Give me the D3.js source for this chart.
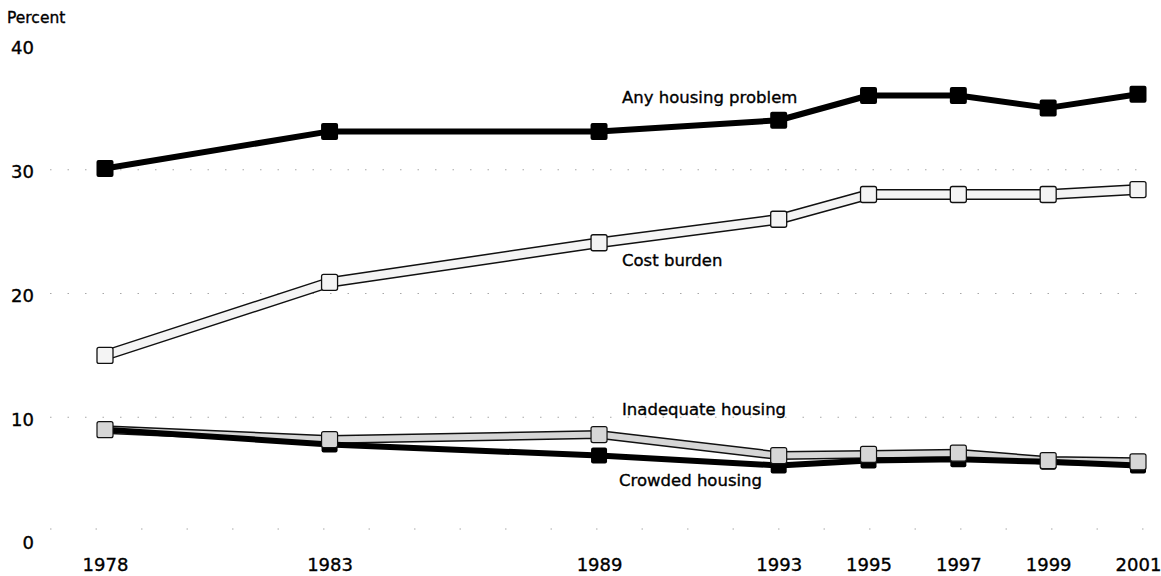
<!DOCTYPE html>
<html>
<head>
<meta charset="utf-8">
<script src="https://cdn.jsdelivr.net/npm/d3@7"></script>
<style>
body{margin:0;background:#fff;}
svg text{font-family:"DejaVu Sans",sans-serif;fill:#000;stroke:#000;stroke-width:0.35px;}
</style>
</head>
<body>
<svg></svg>
<script>
// values (percent)
var years = [1978,1983,1989,1993,1995,1997,1999,2001];
var anyProblem = [30.1,33.1,33.1,34.0,36.0,36.0,35.0,36.1];
var costBurden = [15.0,20.9,24.1,26.0,28.0,28.0,28.0,28.4];
var inadequate = [9.0,8.2,8.6,6.9,7.0,7.1,6.5,6.4];
var crowded = [9.0,7.8,6.9,6.1,6.5,6.6,6.4,6.1];
var yTicks = [0,10,20,30,40];
var gridValues = [10,20,30];
var seriesNames = ["Any housing problem","Cost burden","Inadequate housing","Crowded housing"];

var makePoints = function(values)
{
    return years.map(function(y,i){ return {year:y,value:values[i]}; });
}

var screen = {width:1161,height:576};

var svg = d3.select("svg")
    .attr("width",screen.width)
    .attr("height",screen.height);

var xScale = d3.scaleLinear()
    .domain([1978,2001])
    .range([105,1138]);

var yScale = d3.scaleLinear()
    .domain([0,40])
    .range([541,46]);

var lineGenerator = d3.line()
    .x(function(d){ return xScale(d.year); })
    .y(function(d){ return yScale(d.value); });

// faint dotted grid
var grid = svg.append("g").attr("class","grid");
grid.selectAll("line")
    .data(gridValues)
    .enter()
    .append("line")
    .attr("x1",50)
    .attr("x2",1150)
    .attr("y1",function(d){ return yScale(d); })
    .attr("y2",function(d){ return yScale(d); })
    .attr("stroke","#a8a8a8")
    .attr("stroke-width",1)
    .attr("stroke-dasharray","1.5,16");

grid.append("line")
    .attr("x1",50).attr("x2",1150)
    .attr("y1",529).attr("y2",529)
    .attr("stroke","#a8a8a8")
    .attr("stroke-width",1)
    .attr("stroke-dasharray","1.5,44");

// axes
var yAxis = d3.axisLeft(yScale)
    .tickValues(yTicks)
    .tickSize(0)
    .tickPadding(0);

var yG = svg.append("g")
    .attr("transform","translate(34,2)")
    .call(yAxis);
yG.select(".domain").remove();
yG.selectAll("text")
    .style("font-size","18px")
    .attr("fill","#000");

var xAxis = d3.axisBottom(xScale)
    .tickValues(years)
    .tickFormat(d3.format("d"))
    .tickSize(0)
    .tickPadding(0);

var xG = svg.append("g")
    .attr("transform","translate(0,558)")
    .call(xAxis);
xG.select(".domain").remove();
xG.selectAll("text")
    .style("font-size","18px")
    .attr("fill","#000");

svg.append("text")
    .text("Percent")
    .attr("x",7)
    .attr("y",23)
    .style("font-size","15.5px");

// outlined band line (double line look)
var drawBand = function(points,outer,inner,fill)
{
    var g = svg.append("g");
    g.append("path")
        .datum(points)
        .attr("d",lineGenerator)
        .attr("fill","none")
        .attr("stroke","#111")
        .attr("stroke-width",outer)
        .attr("stroke-linejoin","round");
    g.append("path")
        .datum(points)
        .attr("d",lineGenerator)
        .attr("fill","none")
        .attr("stroke",fill)
        .attr("stroke-width",inner)
        .attr("stroke-linejoin","round");
}

var drawSolid = function(points,width)
{
    svg.append("path")
        .datum(points)
        .attr("d",lineGenerator)
        .attr("fill","none")
        .attr("stroke","#000")
        .attr("stroke-width",width)
        .attr("stroke-linejoin","round");
}

var drawMarkers = function(points,size,fill,stroke,sw)
{
    svg.append("g")
        .selectAll("rect")
        .data(points)
        .enter()
        .append("rect")
        .attr("x",function(d){ return xScale(d.year)-size/2; })
        .attr("y",function(d){ return yScale(d.value)-size/2; })
        .attr("width",size)
        .attr("height",size)
        .attr("rx",2)
        .attr("fill",fill)
        .attr("stroke",stroke)
        .attr("stroke-width",sw);
}

var anyPts = makePoints(anyProblem);
var costPts = makePoints(costBurden);
var inadPts = makePoints(inadequate);
var crowdPts = makePoints(crowded);

drawBand(costPts,11,8,"#f4f4f4");
drawMarkers(costPts,16,"#f4f4f4","#111",1.3);

drawSolid(anyPts,6);
drawMarkers(anyPts,17,"#000","#000",0);

drawBand(inadPts,9,6,"#d6d6d6");
drawSolid(crowdPts,6);
drawMarkers(crowdPts,16,"#000","#000",0);
drawMarkers(inadPts,16,"#d6d6d6","#111",1.2);

// series labels
var labelPos = [[622,103],[622,266],[622,415],[619,486]];
svg.append("g")
    .selectAll("text")
    .data(seriesNames)
    .enter()
    .append("text")
    .text(function(d){ return d; })
    .attr("x",function(d,i){ return labelPos[i][0]; })
    .attr("y",function(d,i){ return labelPos[i][1]; })
    .style("font-size","16.5px");
</script>
</body>
</html>
